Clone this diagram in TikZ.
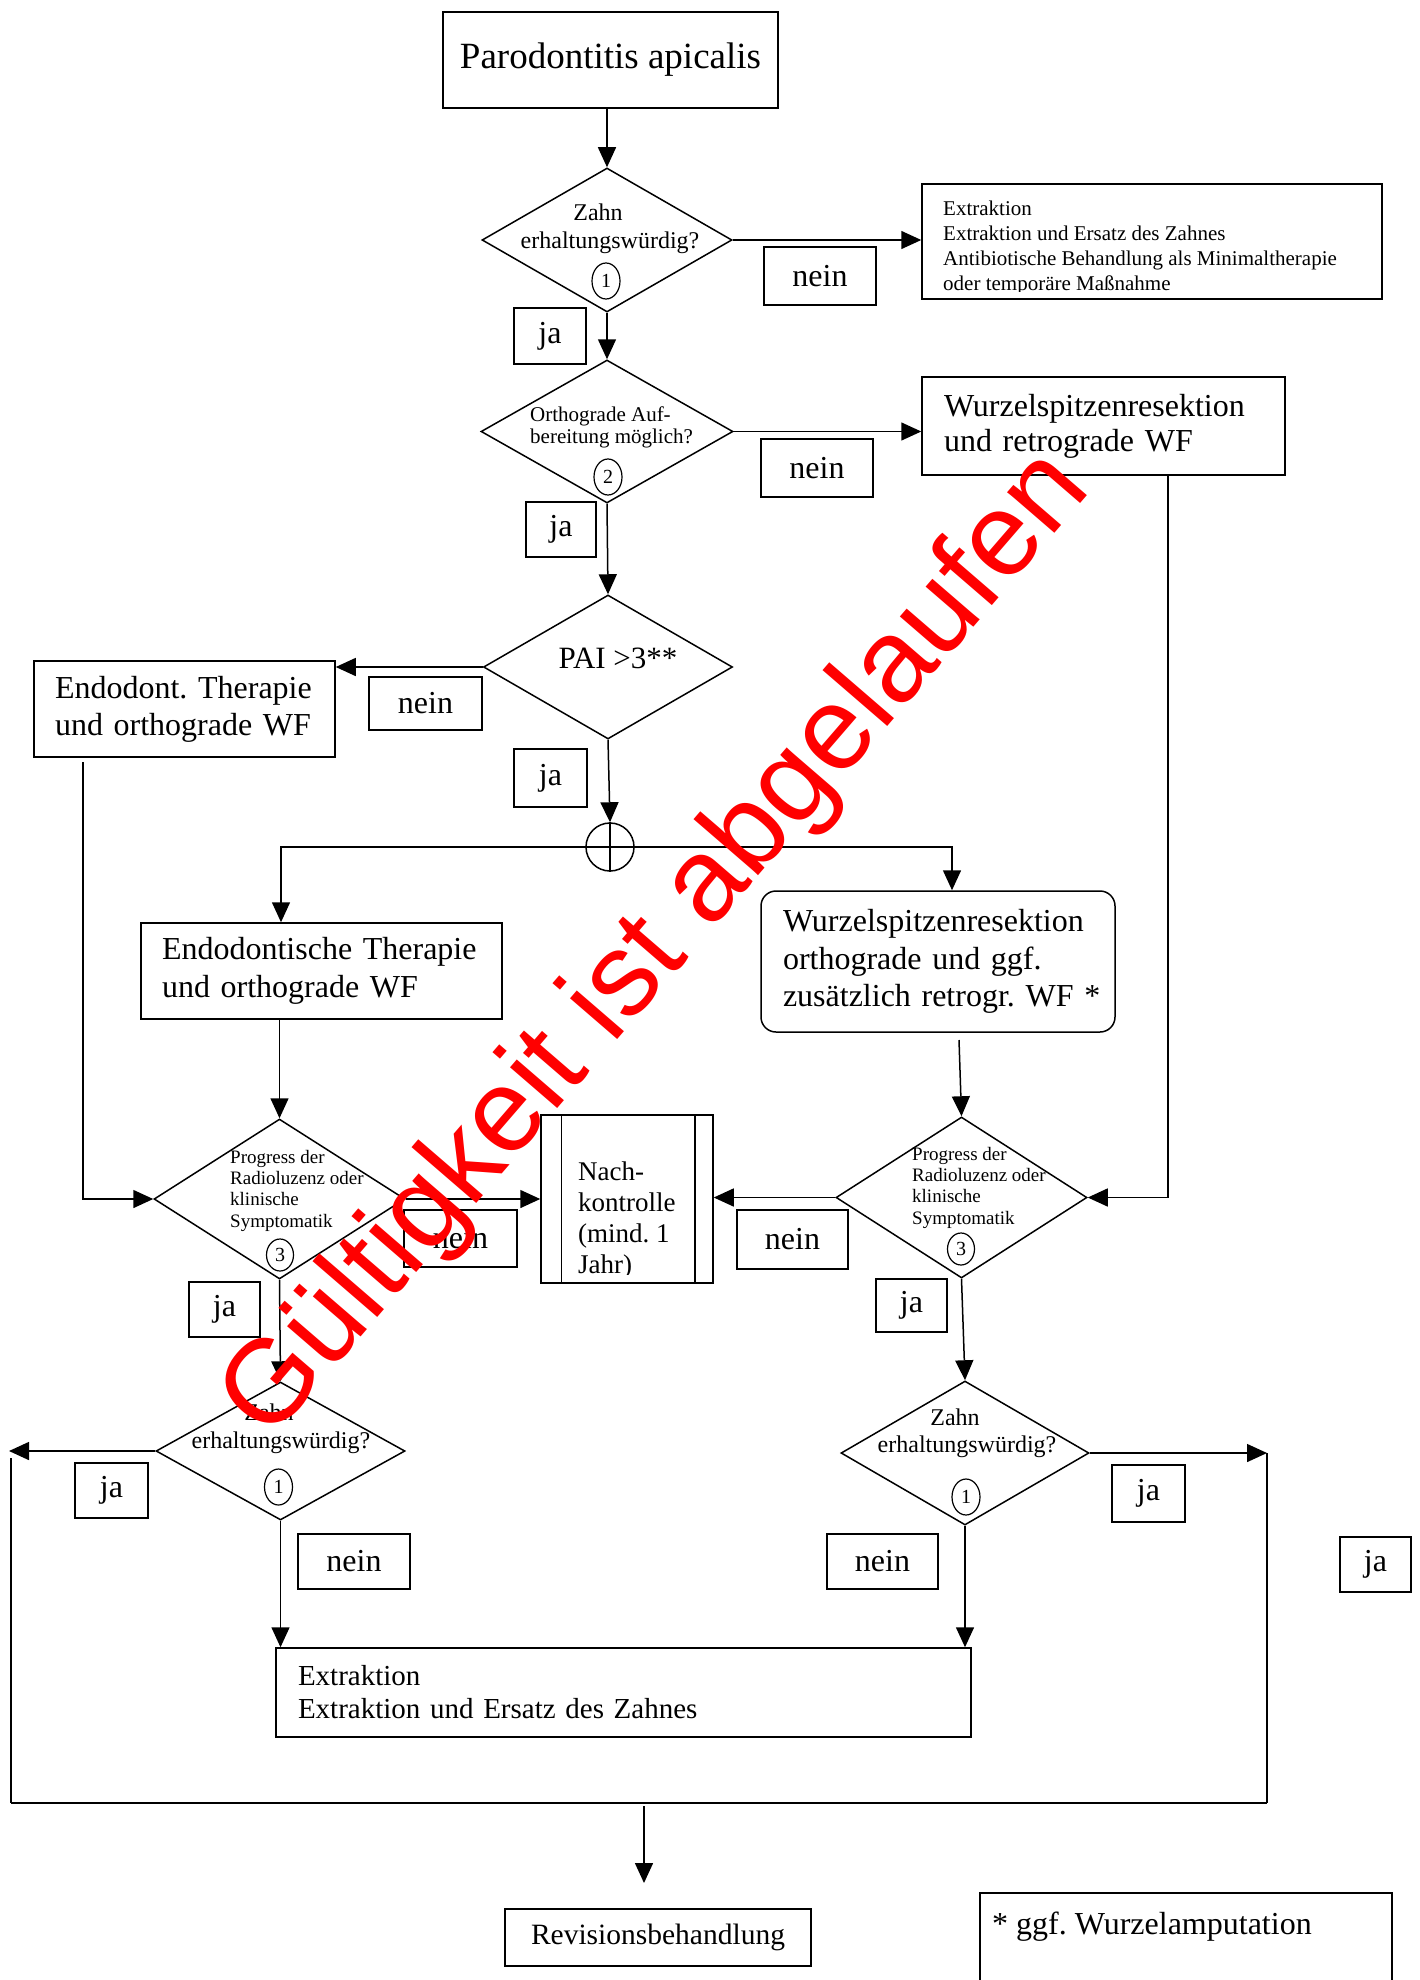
\documentclass[tikz,border=0pt]{standalone}
\usepackage{fontspec}
\setmainfont{Liberation Serif}
\newfontfamily\wmfont{Liberation Sans}
\usetikzlibrary{arrows.meta,shapes.geometric}
\newcommand{\myfs}[2]{\fontsize{#1}{#2}\selectfont\frenchspacing}
\begin{document}
\frenchspacing
\begin{tikzpicture}[x=1pt,y=-1pt,
  box/.style={draw, line width=1.5pt, inner sep=0pt},
  tag/.style={draw, line width=1.5pt, inner sep=0pt, font=\myfs{32}{36}},
  dia/.style={draw, diamond, line width=1.5pt, inner sep=0pt},
  dtxt/.style={inner sep=0pt, anchor=base, font=\myfs{24}{28}},
  ptxt/.style={inner sep=0pt, anchor=west, align=left, font=\myfs{19}{21.3}},
  num/.style={draw, ellipse, line width=1.2pt, minimum width=28pt, minimum height=36pt, inner sep=0pt, font=\myfs{20}{20}},
  arr/.style={-{Triangle[length=20pt,width=18pt]}, line width=1.5pt},
  ln/.style={line width=1.5pt}
]
\useasboundingbox (0,0) rectangle (1420,1980);
\fill[white] (0,0) rectangle (1420,1980);

% ---- top
\node[box, minimum width=335pt, minimum height=96pt, font=\myfs{37}{42}] (top) at (610.5,60) {Parodontitis apicalis};

% ---- decision 1
\node[dia, minimum width=250pt, minimum height=144pt] (d1) at (607,240) {};
\node[dtxt] (d1a) at (598,221) {Zahn};
\node[dtxt] (d1b) at (610,248) {erhaltungswürdig?};
\node[num] (n1) at (606,281) {1};

\node[box, minimum width=460pt, minimum height=115pt] (ex1) at (1152,241.5) {};
\begin{scope}
\clip (922,184) rectangle (1382,291);
\node[font=\myfs{21}{25}, anchor=west, align=left, inner sep=0pt] (ex1t) at (943,247.6) {Extraktion\\Extraktion und Ersatz des Zahnes\\Antibiotische Behandlung als Minimaltherapie\\oder temporäre Maßnahme};
\end{scope}
\node[tag, minimum width=112pt, minimum height=58pt] (nein1) at (820,276) {nein};
\node[tag, minimum width=72pt, minimum height=56pt] (ja1) at (550,336) {ja};

% ---- decision 2
\node[dia, minimum width=252pt, minimum height=143pt] (d2) at (607,431.5) {};
\node[font=\myfs{21}{22}, anchor=west, align=left, inner sep=0pt] (d2t) at (530,427) {Orthograde Auf-\\bereitung möglich?};
\node[num] (n2) at (608,477) {2};
\node[box, minimum height=98pt, text width=319pt, inner xsep=22pt, align=left, font=\myfs{32}{35}] (wsr1) at (1103.5,426) {Wurzelspitzenresektion\\und retrograde WF};
\node[tag, minimum width=112pt, minimum height=58pt] (nein2) at (817,468) {nein};
\node[tag, minimum width=70pt, minimum height=55pt] (ja2) at (561,529.5) {ja};

% ---- PAI
\node[dia, minimum width=249pt, minimum height=144pt] (pai) at (608,667) {};
\node[inner sep=0pt, anchor=base, font=\myfs{31}{36}] (pait) at (618,668) {PAI >3**};
\node[box, minimum height=96pt, text width=259pt, inner xsep=21pt, align=left, font=\myfs{32}{37}] (endo1) at (184.5,709) {\mbox{Endodont. Therapie}\\\mbox{und orthograde WF}};
\node[tag, minimum width=113pt, minimum height=53pt] (nein3) at (425.5,703.5) {nein};
\node[tag, minimum width=73pt, minimum height=58pt] (ja3) at (550.5,778) {ja};

% ---- junction
\node[circle, draw, line width=1.5pt, minimum size=48pt, inner sep=0pt] (J) at (610,847) {};

\node[box, minimum height=96pt, text width=319pt, inner xsep=21pt, align=left, font=\myfs{32}{38}] (endo2) at (321.5,971) {Endodontische Therapie\\und orthograde WF};
\node[box, rounded corners=15pt, minimum height=141pt, text width=310pt, inner xsep=22pt, align=left, font=\myfs{32}{37.5}] (wsr2) at (938,961.5) {Wurzelspitzenresektion\\orthograde und ggf.\\\mbox{zusätzlich retrogr. WF *}};

% ---- decision 3 left
\node[dia, minimum width=251pt, minimum height=160pt] (d3l) at (279.5,1199) {};
\node[ptxt] (d3lt) at (230,1190.5) {Progress der\\Radioluzenz oder\\klinische\\Symptomatik};
\node[num, minimum width=27pt, minimum height=32pt] (n3l) at (280,1255) {3};

% ---- Nachkontrolle
\node[box, minimum width=172pt, minimum height=168pt] (nach) at (627,1199) {};
\draw[ln] ([xshift=21pt]nach.north west) -- ([xshift=21pt]nach.south west);
\draw[ln] ([xshift=-19pt]nach.north east) -- ([xshift=-19pt]nach.south east);
\begin{scope}
\clip (562,1115) rectangle (694,1274);
\node[font=\myfs{27}{31}, anchor=west, align=left, inner sep=0pt] (nacht) at (578,1220) {Nach-\\kontrolle\\(mind. 1\\Jahr)};
\end{scope}

% ---- decision 3 right
\node[dia, minimum width=251pt, minimum height=161pt] (d3r) at (961.5,1197.5) {};
\node[ptxt] (d3rt) at (912,1187.5) {Progress der\\Radioluzenz oder\\klinische\\Symptomatik};
\node[num, minimum width=27pt, minimum height=32pt] (n3r) at (961,1249) {3};

\node[tag, minimum width=71pt, minimum height=55pt] (ja4) at (224.5,1309.5) {ja};
\node[tag, minimum width=113pt, minimum height=57pt] (nein4) at (460.5,1238.5) {nein};
\node[tag, minimum width=111pt, minimum height=59pt] (nein5) at (792.5,1239.5) {nein};
\node[tag, minimum width=71pt, minimum height=53pt] (ja5) at (911.5,1305.5) {ja};

% ---- decision 4 left / right
\node[dia, minimum width=249pt, minimum height=138pt] (d4l) at (280.5,1451) {};
\node[dtxt] (d4la) at (269,1420) {Zahn};
\node[dtxt] (d4lb) at (281,1448) {erhaltungswürdig?};
\node[num] (n4l) at (278.5,1487) {1};

\node[dia, minimum width=248pt, minimum height=144pt] (d4r) at (965,1453) {};
\node[dtxt] (d4ra) at (955,1425) {Zahn};
\node[dtxt] (d4rb) at (967,1452) {erhaltungswürdig?};
\node[num] (n4r) at (966,1497) {1};

\node[tag, minimum width=73pt, minimum height=55pt] (ja6) at (111.5,1490.5) {ja};
\node[tag, minimum width=112pt, minimum height=55pt] (nein6) at (354,1561.5) {nein};
\node[tag, minimum width=111pt, minimum height=55pt] (nein7) at (882.5,1561.5) {nein};
\node[tag, minimum width=73pt, minimum height=57pt] (ja7) at (1148.5,1493.5) {ja};
\node[tag, minimum width=71pt, minimum height=55pt] (ja8) at (1375.5,1564.5) {ja};

% ---- bottom
\node[box, minimum height=89pt, text width=651pt, inner xsep=22pt, align=left, font=\myfs{29}{33}] (ex2) at (623.5,1692.5) {Extraktion\\Extraktion und Ersatz des Zahnes};
\node[box, minimum width=306pt, minimum height=57pt, font=\myfs{29.5}{34}] (rev) at (658,1937.5) {Revisionsbehandlung};
\node[box, minimum width=412pt, minimum height=120pt] (foot) at (1186,1953) {};
\node[inner sep=0pt, anchor=base west, font=\myfs{32}{36}] (foott) at (992,1934) {* ggf. Wurzelamputation};

% ---- connectors
\draw[arr] (d1.north |- top.south) -- (d1.north);
\draw[arr] (d1.east) -- (d1.east -| ex1.west);
\draw[arr] (d1.south) -- (d2.north);
\draw[arr] (d2.east) -- (d2.east -| wsr1.west);
\draw[arr] (d2.south) -- (pai.north);
\draw[arr] (pai.west) -- (pai.west -| endo1.east);
\draw[arr] (pai.south) -- (J.north);
\draw[ln] (J.north) -- (J.south);
\draw[ln] (J.west) -- (J.east);
\coordinate (jl) at (281,847);
\coordinate (jr) at (952,847);
\draw[arr] (J.west) -- (jl) -- (jl |- endo2.north);
\draw[arr] (J.east) -- (jr) -- (jr |- wsr2.north);
\coordinate (e1) at (83,762);
\draw[arr] (e1) |- (d3l.west);
\draw[arr] (d3l.north |- endo2.south) -- (d3l.north);
\coordinate (w1) at (1168,475);
\draw[arr] (w1) |- (d3r.east);
\coordinate (w2) at (959,1040);
\draw[arr] (w2) -- (d3r.north);
\draw[arr] (d3l.east) -- (d3l.east -| nach.west);
\draw[arr] (d3r.west) -- (d3r.west -| nach.east);
\draw[arr] (d3l.south) -- (d4l.north);
\draw[arr] (d3r.south) -- (d4r.north);
\coordinate (L1) at (9,1451);
\coordinate (R1) at (1267,1453);
\draw[arr] (d4l.west) -- (L1);
\draw[arr] (d4r.east) -- (R1);
\coordinate (L2) at (11,1458);
\coordinate (B1) at (11,1803);
\coordinate (B2) at (1267,1803);
\draw[ln] (L2) -- (B1);
\draw[line width=2.5pt] (B1) -- (B2);
\draw[ln] (R1) -- (B2);
\coordinate (B3) at (644,1806);
\coordinate (B4) at (644,1883);
\draw[arr] (B3) -- (B4);
\draw[arr] (d4l.south) -- (d4l.south |- ex2.north);
\draw[arr] (d4r.south) -- (d4r.south |- ex2.north);

% ---- watermark
\node[font=\wmfont\myfs{118}{118}, text=red, rotate=49.2, inner sep=0pt] (wm) at (658,946) {Gültigkeit ist abgelaufen};
\end{tikzpicture}
\end{document}
